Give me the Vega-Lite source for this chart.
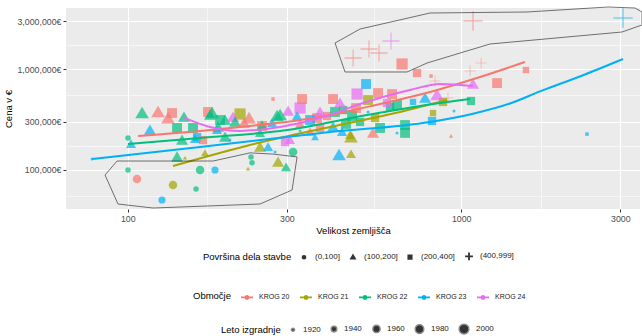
{
  "$schema": "https://vega.github.io/schema/vega-lite/v6.json",
  "width": 574,
  "height": 201,
  "autosize": {"type": "none"},
  "padding": {"left": 66, "top": 8, "right": 2, "bottom": 127},
  "background": "white",
  "config": {
    "font": "Liberation Sans",
    "view": {"fill": "#EBEBEB", "stroke": null},
    "axis": {
      "domain": false,
      "grid": true,
      "gridColor": "white",
      "tickColor": "#333333",
      "tickSize": 3,
      "labelColor": "#4D4D4D",
      "labelFontSize": 8.8,
      "labelPadding": 2,
      "titleFontSize": 9.5,
      "titleFontWeight": "normal",
      "titleColor": "black"
    },
    "legend": {
      "labelFontSize": 8,
      "labelColor": "#1A1A1A",
      "titleFontSize": 9.5,
      "titleFontWeight": "normal",
      "titleColor": "black"
    }
  },
  "resolve": {"legend": {"color": "independent"}},
  "datasets": {
    "pts": [
      {"x": 1085, "y": 3006000, "o": "KROG 20", "p": "(400,999]", "l": 2000},
      {"x": 3057, "y": 3220000, "o": "KROG 23", "p": "(400,999]", "l": 2000},
      {"x": 474, "y": 1288000, "o": "KROG 20", "p": "(400,999]", "l": 1980},
      {"x": 529, "y": 1585000, "o": "KROG 20", "p": "(400,999]", "l": 1980},
      {"x": 567, "y": 1445000, "o": "KROG 20", "p": "(400,999]", "l": 1980},
      {"x": 616, "y": 1901000, "o": "KROG 24", "p": "(400,999]", "l": 1980},
      {"x": 1063, "y": 957000, "o": "KROG 20", "p": "(400,999]", "l": 1940},
      {"x": 1147, "y": 1150000, "o": "KROG 20", "p": "(400,999]", "l": 1940},
      {"x": 835, "y": 762000, "o": "KROG 20", "p": "(400,999]", "l": 1940},
      {"x": 913, "y": 516000, "o": "KROG 20", "p": "(400,999]", "l": 1940},
      {"x": 664.8, "y": 1124000, "o": "KROG 20", "p": "(200,400]", "l": 2000},
      {"x": 737.3, "y": 914000, "o": "KROG 20", "p": "(200,400]", "l": 1960},
      {"x": 812, "y": 853000, "o": "KROG 20", "p": "(200,400]", "l": 1920},
      {"x": 1281, "y": 727000, "o": "KROG 20", "p": "(200,400]", "l": 1980},
      {"x": 1564, "y": 979500, "o": "KROG 20", "p": "(200,400]", "l": 1940},
      {"x": 518.4, "y": 711000, "o": "KROG 23", "p": "(200,400]", "l": 1980},
      {"x": 487.2, "y": 565000, "o": "KROG 24", "p": "(200,400]", "l": 2000},
      {"x": 412.8, "y": 504000, "o": "KROG 20", "p": "(200,400]", "l": 1980},
      {"x": 563.2, "y": 578000, "o": "KROG 20", "p": "(200,400]", "l": 1980},
      {"x": 620.4, "y": 565000, "o": "KROG 20", "p": "(200,400]", "l": 1980},
      {"x": 642.2, "y": 440000, "o": "KROG 22", "p": "(200,400]", "l": 1980},
      {"x": 611.9, "y": 420000, "o": "KROG 22", "p": "(200,400]", "l": 1960},
      {"x": 470.7, "y": 342000, "o": "KROG 22", "p": "(200,400]", "l": 1980},
      {"x": 442.3, "y": 392000, "o": "KROG 22", "p": "(200,400]", "l": 1960},
      {"x": 525.6, "y": 493000, "o": "KROG 21", "p": "(200,400]", "l": 1980},
      {"x": 882.2, "y": 471000, "o": "KROG 21", "p": "(200,400]", "l": 1960},
      {"x": 823.3, "y": 366000, "o": "KROG 21", "p": "(200,400]", "l": 1940},
      {"x": 817.6, "y": 305000, "o": "KROG 23", "p": "(200,400]", "l": 1960},
      {"x": 1070, "y": 482000, "o": "KROG 22", "p": "(200,400]", "l": 1960},
      {"x": 678.7, "y": 278000, "o": "KROG 22", "p": "(200,400]", "l": 1980},
      {"x": 678.7, "y": 232000, "o": "KROG 22", "p": "(200,400]", "l": 1980},
      {"x": 571.1, "y": 260000, "o": "KROG 22", "p": "(200,400]", "l": 1980},
      {"x": 717.2, "y": 471000, "o": "KROG 23", "p": "(200,400]", "l": 1940},
      {"x": 2384, "y": 226000, "o": "KROG 23", "p": "(200,400]", "l": 1920},
      {"x": 135.8, "y": 366000, "o": "KROG 20", "p": "(200,400]", "l": 1980},
      {"x": 140.6, "y": 260000, "o": "KROG 22", "p": "(200,400]", "l": 1980},
      {"x": 157.0, "y": 260000, "o": "KROG 22", "p": "(200,400]", "l": 1980},
      {"x": 161.4, "y": 211000, "o": "KROG 23", "p": "(200,400]", "l": 1960},
      {"x": 174.1, "y": 375000, "o": "KROG 20", "p": "(200,400]", "l": 1980},
      {"x": 217.2, "y": 358000, "o": "KROG 21", "p": "(200,400]", "l": 2000},
      {"x": 328.8, "y": 410000, "o": "KROG 24", "p": "(200,400]", "l": 2000},
      {"x": 333.3, "y": 504000, "o": "KROG 20", "p": "(200,400]", "l": 1980},
      {"x": 272.8, "y": 504000, "o": "KROG 20", "p": "(200,400]", "l": 1920},
      {"x": 369.6, "y": 326000, "o": "KROG 20", "p": "(200,400]", "l": 1980},
      {"x": 396, "y": 342000, "o": "KROG 20", "p": "(200,400]", "l": 1960},
      {"x": 168.2, "y": 197000, "o": "KROG 20", "p": "(200,400]", "l": 1960},
      {"x": 296.4, "y": 188000, "o": "KROG 24", "p": "(200,400]", "l": 1960},
      {"x": 418.5, "y": 375000, "o": "KROG 22", "p": "(200,400]", "l": 1980},
      {"x": 352.2, "y": 312000, "o": "KROG 23", "p": "(200,400]", "l": 1980},
      {"x": 377.3, "y": 260000, "o": "KROG 20", "p": "(200,400]", "l": 1960},
      {"x": 497.3, "y": 298000, "o": "KROG 22", "p": "(200,400]", "l": 1960},
      {"x": 483.8, "y": 410000, "o": "KROG 20", "p": "(200,400]", "l": 1980},
      {"x": 451.4, "y": 285000, "o": "KROG 22", "p": "(200,400]", "l": 1980},
      {"x": 599.3, "y": 460000, "o": "KROG 24", "p": "(200,400]", "l": 1960},
      {"x": 551.4, "y": 326000, "o": "KROG 21", "p": "(200,400]", "l": 1960},
      {"x": 252.8, "y": 272000, "o": "KROG 20", "p": "(200,400]", "l": 1980},
      {"x": 189.2, "y": 312000, "o": "KROG 22", "p": "(200,400]", "l": 1980},
      {"x": 110.4, "y": 366000, "o": "KROG 22", "p": "(100,200]", "l": 2000},
      {"x": 123.3, "y": 375000, "o": "KROG 20", "p": "(100,200]", "l": 2000},
      {"x": 132.1, "y": 326000, "o": "KROG 20", "p": "(100,200]", "l": 2000},
      {"x": 147.5, "y": 334000, "o": "KROG 22", "p": "(100,200]", "l": 1980},
      {"x": 116.6, "y": 248000, "o": "KROG 23", "p": "(100,200]", "l": 1980},
      {"x": 102.3, "y": 180000, "o": "KROG 23", "p": "(100,200]", "l": 1960},
      {"x": 145.5, "y": 197000, "o": "KROG 22", "p": "(100,200]", "l": 1980},
      {"x": 140.6, "y": 134000, "o": "KROG 22", "p": "(100,200]", "l": 1980},
      {"x": 159.2, "y": 202000, "o": "KROG 23", "p": "(100,200]", "l": 1960},
      {"x": 179, "y": 366000, "o": "KROG 22", "p": "(100,200]", "l": 2000},
      {"x": 176.5, "y": 350000, "o": "KROG 22", "p": "(100,200]", "l": 1980},
      {"x": 195.8, "y": 312000, "o": "KROG 22", "p": "(100,200]", "l": 1980},
      {"x": 206.9, "y": 334000, "o": "KROG 24", "p": "(100,200]", "l": 1980},
      {"x": 209.8, "y": 298000, "o": "KROG 22", "p": "(100,200]", "l": 1980},
      {"x": 231.1, "y": 326000, "o": "KROG 20", "p": "(100,200]", "l": 2000},
      {"x": 280.4, "y": 342000, "o": "KROG 22", "p": "(100,200]", "l": 2000},
      {"x": 302.6, "y": 383000, "o": "KROG 24", "p": "(100,200]", "l": 1980},
      {"x": 286.3, "y": 350000, "o": "KROG 22", "p": "(100,200]", "l": 2000},
      {"x": 252.8, "y": 278000, "o": "KROG 22", "p": "(100,200]", "l": 1960},
      {"x": 249.3, "y": 232000, "o": "KROG 22", "p": "(100,200]", "l": 1960},
      {"x": 270.9, "y": 291000, "o": "KROG 23", "p": "(100,200]", "l": 1960},
      {"x": 322, "y": 342000, "o": "KROG 23", "p": "(100,200]", "l": 1960},
      {"x": 186.6, "y": 266000, "o": "KROG 22", "p": "(100,200]", "l": 1980},
      {"x": 195.8, "y": 211000, "o": "KROG 22", "p": "(100,200]", "l": 1980},
      {"x": 185.3, "y": 248000, "o": "KROG 23", "p": "(100,200]", "l": 1960},
      {"x": 249.3, "y": 168000, "o": "KROG 21", "p": "(100,200]", "l": 1980},
      {"x": 263.5, "y": 168000, "o": "KROG 23", "p": "(100,200]", "l": 1960},
      {"x": 282.4, "y": 119000, "o": "KROG 21", "p": "(100,200]", "l": 1980},
      {"x": 298.4, "y": 106000, "o": "KROG 22", "p": "(100,200]", "l": 1960},
      {"x": 170.5, "y": 147000, "o": "KROG 21", "p": "(100,200]", "l": 1940},
      {"x": 148.5, "y": 131000, "o": "KROG 21", "p": "(100,200]", "l": 1920},
      {"x": 229.5, "y": 102000, "o": "KROG 21", "p": "(100,200]", "l": 1920},
      {"x": 433.2, "y": 460000, "o": "KROG 24", "p": "(100,200]", "l": 1980},
      {"x": 846.4, "y": 553000, "o": "KROG 24", "p": "(100,200]", "l": 2000},
      {"x": 779.2, "y": 516000, "o": "KROG 23", "p": "(100,200]", "l": 1980},
      {"x": 1085, "y": 711000, "o": "KROG 24", "p": "(100,200]", "l": 1980},
      {"x": 544, "y": 232000, "o": "KROG 20", "p": "(100,200]", "l": 1980},
      {"x": 932.2, "y": 216000, "o": "KROG 20", "p": "(100,200]", "l": 1920},
      {"x": 430.2, "y": 140000, "o": "KROG 23", "p": "(100,200]", "l": 2000},
      {"x": 467.4, "y": 143000, "o": "KROG 21", "p": "(100,200]", "l": 1960},
      {"x": 467.4, "y": 211000, "o": "KROG 21", "p": "(100,200]", "l": 2000},
      {"x": 412.8, "y": 266000, "o": "KROG 23", "p": "(100,200]", "l": 1980},
      {"x": 439.2, "y": 237000, "o": "KROG 23", "p": "(100,200]", "l": 1960},
      {"x": 464.2, "y": 221000, "o": "KROG 21", "p": "(100,200]", "l": 1960},
      {"x": 364.5, "y": 211000, "o": "KROG 23", "p": "(100,200]", "l": 1940},
      {"x": 148.5, "y": 326000, "o": "KROG 24", "p": "(100,200]", "l": 1920},
      {"x": 306.8, "y": 197000, "o": "KROG 24", "p": "(100,200]", "l": 1960},
      {"x": 223.3, "y": 291000, "o": "KROG 20", "p": "(100,200]", "l": 1980},
      {"x": 328.8, "y": 285000, "o": "KROG 20", "p": "(100,200]", "l": 1960},
      {"x": 377.3, "y": 375000, "o": "KROG 24", "p": "(100,200]", "l": 1980},
      {"x": 352.2, "y": 237000, "o": "KROG 20", "p": "(100,200]", "l": 1960},
      {"x": 78.2, "y": 128000, "o": "KROG 23", "p": "(0,100]", "l": 1920},
      {"x": 100.2, "y": 207000, "o": "KROG 22", "p": "(0,100]", "l": 1940},
      {"x": 100.2, "y": 99300, "o": "KROG 22", "p": "(0,100]", "l": 1940},
      {"x": 106.6, "y": 80900, "o": "KROG 20", "p": "(0,100]", "l": 1980},
      {"x": 136.7, "y": 70500, "o": "KROG 21", "p": "(0,100]", "l": 1980},
      {"x": 164.8, "y": 99300, "o": "KROG 22", "p": "(0,100]", "l": 1980},
      {"x": 182.7, "y": 99300, "o": "KROG 23", "p": "(0,100]", "l": 1960},
      {"x": 160.3, "y": 64300, "o": "KROG 22", "p": "(0,100]", "l": 1940},
      {"x": 126.7, "y": 50000, "o": "KROG 23", "p": "(0,100]", "l": 1960},
      {"x": 313.2, "y": 150000, "o": "KROG 22", "p": "(0,100]", "l": 1980},
      {"x": 234.3, "y": 134000, "o": "KROG 22", "p": "(0,100]", "l": 1940},
      {"x": 235.9, "y": 117000, "o": "KROG 22", "p": "(0,100]", "l": 1940},
      {"x": 276.6, "y": 150000, "o": "KROG 23", "p": "(0,100]", "l": 1920},
      {"x": 202.6, "y": 197000, "o": "KROG 23", "p": "(0,100]", "l": 1920},
      {"x": 328.8, "y": 243000, "o": "KROG 23", "p": "(0,100]", "l": 1920},
      {"x": 951.7, "y": 383000, "o": "KROG 23", "p": "(0,100]", "l": 1920},
      {"x": 642.2, "y": 232000, "o": "KROG 23", "p": "(0,100]", "l": 1920},
      {"x": 525.6, "y": 375000, "o": "KROG 23", "p": "(0,100]", "l": 1920}
    ],
    "fits": [
      {"o": "KROG 20", "k": 1, "x": 107.4, "y": 216000},
      {"o": "KROG 20", "k": 2, "x": 202.6, "y": 260000},
      {"o": "KROG 20", "k": 3, "x": 377.3, "y": 334000},
      {"o": "KROG 20", "k": 4, "x": 571.1, "y": 450000},
      {"o": "KROG 20", "k": 5, "x": 806.4, "y": 592000},
      {"o": "KROG 20", "k": 6, "x": 1138.5, "y": 834600},
      {"o": "KROG 20", "k": 7, "x": 1553.6, "y": 1176600},
      {"o": "KROG 21", "k": 1, "x": 136.7, "y": 108800},
      {"o": "KROG 21", "k": 2, "x": 232.7, "y": 176000},
      {"o": "KROG 21", "k": 3, "x": 404.2, "y": 266000},
      {"o": "KROG 21", "k": 4, "x": 655.3, "y": 375000},
      {"o": "KROG 21", "k": 5, "x": 906.8, "y": 493000},
      {"o": "KROG 22", "k": 1, "x": 100.2, "y": 180000},
      {"o": "KROG 22", "k": 2, "x": 164.8, "y": 207000},
      {"o": "KROG 22", "k": 3, "x": 300.3, "y": 248000},
      {"o": "KROG 22", "k": 4, "x": 521.9, "y": 350000},
      {"o": "KROG 22", "k": 5, "x": 752.3, "y": 430000},
      {"o": "KROG 22", "k": 6, "x": 1062.6, "y": 504000},
      {"o": "KROG 23", "k": 1, "x": 78.2, "y": 127800},
      {"o": "KROG 23", "k": 2, "x": 164.8, "y": 168000},
      {"o": "KROG 23", "k": 3, "x": 404.2, "y": 237000},
      {"o": "KROG 23", "k": 4, "x": 806.4, "y": 298000},
      {"o": "KROG 23", "k": 5, "x": 1085, "y": 360000},
      {"o": "KROG 23", "k": 6, "x": 1400, "y": 455000},
      {"o": "KROG 23", "k": 7, "x": 1723, "y": 600000},
      {"o": "KROG 23", "k": 8, "x": 2300, "y": 860000},
      {"o": "KROG 23", "k": 9, "x": 3057, "y": 1260200},
      {"o": "KROG 24", "k": 1, "x": 148.5, "y": 326000},
      {"o": "KROG 24", "k": 2, "x": 176.5, "y": 266000},
      {"o": "KROG 24", "k": 3, "x": 217.2, "y": 243000},
      {"o": "KROG 24", "k": 4, "x": 286.3, "y": 266000},
      {"o": "KROG 24", "k": 5, "x": 377.3, "y": 326000},
      {"o": "KROG 24", "k": 6, "x": 507.6, "y": 460000},
      {"o": "KROG 24", "k": 7, "x": 702.3, "y": 620000},
      {"o": "KROG 24", "k": 8, "x": 864.0, "y": 711000},
      {"o": "KROG 24", "k": 9, "x": 1085, "y": 679000}
    ],
    "polys": [
      {"g": "a", "k": 1, "x": 92.9, "y": 122000},
      {"g": "a", "k": 2, "x": 180.3, "y": 122000},
      {"g": "a", "k": 3, "x": 232.7, "y": 147000},
      {"g": "a", "k": 4, "x": 272.8, "y": 143000},
      {"g": "a", "k": 5, "x": 322.0, "y": 134000},
      {"g": "a", "k": 6, "x": 311.1, "y": 62800},
      {"g": "a", "k": 7, "x": 249.3, "y": 45600},
      {"g": "a", "k": 8, "x": 119.1, "y": 41600},
      {"g": "a", "k": 9, "x": 93.5, "y": 45600},
      {"g": "a", "k": 10, "x": 85.5, "y": 88600},
      {"g": "a", "k": 11, "x": 92.9, "y": 122000},
      {"g": "b", "k": 1, "x": 418.5, "y": 1818000},
      {"g": "b", "k": 2, "x": 497.3, "y": 2503000},
      {"g": "b", "k": 3, "x": 806.4, "y": 3612000},
      {"g": "b", "k": 4, "x": 1575, "y": 3695000},
      {"g": "b", "k": 5, "x": 2756, "y": 4143000},
      {"g": "b", "k": 6, "x": 3320, "y": 4050000},
      {"g": "b", "k": 7, "x": 3484, "y": 3695000},
      {"g": "b", "k": 8, "x": 3484, "y": 2745000},
      {"g": "b", "k": 9, "x": 3035, "y": 2338000},
      {"g": "b", "k": 10, "x": 1220, "y": 1776000},
      {"g": "b", "k": 11, "x": 790, "y": 1150000},
      {"g": "b", "k": 12, "x": 688, "y": 936000},
      {"g": "b", "k": 13, "x": 448.4, "y": 936000},
      {"g": "b", "k": 14, "x": 418.5, "y": 1818000}
    ]
  },
  "encoding": {
    "x": {
      "field": "x",
      "type": "quantitative",
      "scale": {"type": "log", "domain": [65.3, 3437], "nice": false},
      "axis": {
        "title": "Velikost zemljišča",
        "titlePadding": 3,
        "values": [100, 173.2, 300, 547.7, 1000, 1732, 3000],
        "labelExpr": "(datum.value == 100 || datum.value == 300 || datum.value == 1000 || datum.value == 3000) ? format(datum.value, 'd') : ''",
        "tickOpacity": {"condition": {"test": "datum.value == 100 || datum.value == 300 || datum.value == 1000 || datum.value == 3000", "value": 1}, "value": 0},
        "gridWidth": {"condition": {"test": "datum.value == 100 || datum.value == 300 || datum.value == 1000 || datum.value == 3000", "value": 1.1}, "value": 0.55}
      }
    },
    "y": {
      "field": "y",
      "type": "quantitative",
      "scale": {"type": "log", "domain": [40680, 4050000], "nice": false},
      "axis": {
        "title": "Cena v €",
        "titlePadding": 3,
        "values": [54772, 100000, 173205, 300000, 547723, 1000000, 1732051, 3000000],
        "labelExpr": "(datum.value == 100000 || datum.value == 300000 || datum.value == 1000000 || datum.value == 3000000) ? format(datum.value, ',') + '€' : ''",
        "tickOpacity": {"condition": {"test": "datum.value == 100000 || datum.value == 300000 || datum.value == 1000000 || datum.value == 3000000", "value": 1}, "value": 0},
        "gridWidth": {"condition": {"test": "datum.value == 100000 || datum.value == 300000 || datum.value == 1000000 || datum.value == 3000000", "value": 1.1}, "value": 0.55}
      }
    }
  },
  "layer": [
    {
      "data": {"name": "pts"},
      "mark": {"type": "point", "filled": true, "opacity": 0.7, "strokeWidth": 0},
      "encoding": {
        "color": {
          "field": "o",
          "type": "nominal",
          "scale": {"domain": ["KROG 20", "KROG 21", "KROG 22", "KROG 23", "KROG 24"], "range": ["#F8766D", "#A3A500", "#00BF7D", "#00B0F6", "#E76BF3"]},
          "legend": null
        },
        "shape": {
          "field": "p",
          "type": "nominal",
          "scale": {
            "domain": ["(0,100]", "(100,200]", "(200,400]", "(400,999]"],
            "range": ["circle", "M0,-1.3L1.4,1.1L-1.4,1.1Z", "M-1.15,-1.15H1.15V1.15H-1.15Z", "M-2,-0.1H-0.1V-2H0.1V-0.1H2V0.1H0.1V2H-0.1V0.1H-2Z"]
          },
          "legend": {
            "title": "Površina dela stavbe",
            "orient": "none",
            "legendX": 137,
            "legendY": 244,
            "direction": "horizontal",
            "titleOrient": "left",
            "symbolSize": 10,
            "symbolFillColor": "#333333",
            "symbolStrokeColor": "#333333",
            "symbolOpacity": 1,
            "labelOffset": 7,
            "columnPadding": 7,
            "titlePadding": 8
          }
        },
        "size": {
          "field": "l",
          "type": "quantitative",
          "scale": {"domain": [1915, 2005], "range": [4, 100]},
          "legend": {
            "title": "Leto izgradnje",
            "orient": "none",
            "legendX": 155,
            "legendY": 315,
            "direction": "horizontal",
            "titleOrient": "left",
            "values": [1920, 1940, 1960, 1980, 2000],
            "format": "d",
            "symbolType": "circle",
            "symbolFillColor": "#333333",
            "symbolOpacity": 1,
            "labelOffset": 6,
            "columnPadding": 7,
            "titlePadding": 8
          }
        }
      }
    },
    {
      "data": {"name": "fits"},
      "mark": {"type": "line", "strokeWidth": 2, "interpolate": "monotone"},
      "encoding": {
        "color": {
          "field": "o",
          "type": "nominal",
          "legend": {
            "title": "Območje",
            "orient": "none",
            "legendX": 127,
            "legendY": 282,
            "direction": "horizontal",
            "titleOrient": "left",
            "symbolType": "M-1,0H1M-0.25,0A0.25,0.25 0 1,1 0.25,0A0.25,0.25 0 1,1 -0.25,0",
            "symbolSize": 144,
            "symbolStrokeWidth": 1.8,
            "labelFontSize": 7,
            "labelOffset": 5,
            "columnPadding": 6,
            "titlePadding": 8
          }
        },
        "order": {"field": "k", "type": "quantitative"}
      }
    },
    {
      "data": {"name": "polys"},
      "mark": {"type": "line", "color": "#1A1A1A", "strokeWidth": 0.6, "clip": false},
      "encoding": {
        "detail": {"field": "g", "type": "nominal"},
        "order": {"field": "k", "type": "quantitative"}
      }
    }
  ]
}
